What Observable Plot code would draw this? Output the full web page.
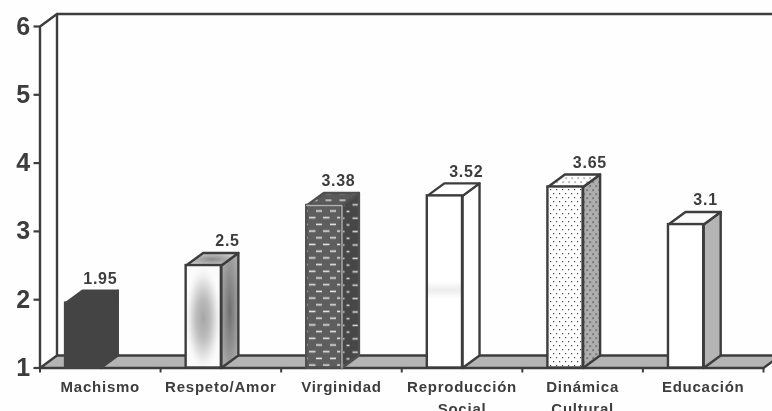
<!DOCTYPE html>
<html><head><meta charset="utf-8">
<script src="https://cdn.jsdelivr.net/npm/d3@7"></script>
<script src="https://cdn.jsdelivr.net/npm/@observablehq/plot@0.6"></script>
<style>
html,body{margin:0;padding:0;background:#fefefe;overflow:hidden}
svg{display:block;filter:blur(0.35px)}
</style></head><body>
<script>
const categories = ["Machismo","Respeto/Amor","Virginidad","Reproducción\nSocial","Dinámica\nCultural","Educación"];
const values = [1.95,2.5,3.38,3.52,3.65,3.1];
const valueLabels = ["1.95","2.5","3.38","3.52","3.65","3.1"];
const yTicks = [1,2,3,4,5,6];

// chart look
const ink = "#3d3d3d";
const depthX = 0.141, depthY = 0.183;   // oblique depth in data units
const barStart = 0.212, barWidth = 0.292;
const labelNudge = [0.5,0.555,0.475,0.535,0.56,0.52];
const faces = [
  {front:"#444",side:"#444",top:"#444",stroke:"#444",edge:"#444"},
  {front:"url(#frontGlow)",side:"url(#sideGlow)",top:"url(#topGlow)",stroke:ink,edge:ink},
  {front:"url(#dashFront)",side:"url(#dashSide)",top:"url(#dashTop)",stroke:"#505050",edge:"#b0b0b0"},
  {front:"url(#smudge)",side:"#fff",top:"#fff",stroke:ink,edge:ink},
  {front:"url(#dotFront)",side:"url(#dotSide)",top:"url(#dotFront)",stroke:ink,edge:ink},
  {front:"#fff",side:"#b4b4b4",top:"#fafafa",stroke:ink,edge:ink}
];

const defs = () => {
  const s = document.createElementNS("http://www.w3.org/2000/svg","defs");
  s.innerHTML = `
  <radialGradient id="frontGlow" cx=".5" cy=".52" r=".5">
    <stop offset="0" stop-color="#a6a6a6"/><stop offset=".4" stop-color="#bdbdbd"/><stop offset=".85" stop-color="#f2f2f2"/><stop offset="1" stop-color="#fbfbfb"/>
  </radialGradient>
  <radialGradient id="sideGlow" cx=".5" cy=".5" r=".55">
    <stop offset="0" stop-color="#707070"/><stop offset="1" stop-color="#a8a8a8"/>
  </radialGradient>
  <radialGradient id="topGlow" cx=".5" cy=".5" r=".55">
    <stop offset="0" stop-color="#8a8a8a"/><stop offset="1" stop-color="#d0d0d0"/>
  </radialGradient>
  <linearGradient id="smudge" x1="0" x2="0" y1="0" y2="1">
    <stop offset=".5" stop-color="#fff"/><stop offset=".55" stop-color="#ececec"/><stop offset=".6" stop-color="#fff"/>
  </linearGradient>
  <pattern id="dashFront" width="14" height="13.4" patternUnits="userSpaceOnUse">
    <rect width="14" height="13.4" fill="#5e5e5e"/>
    <rect x="1" y="2.5" width="6.5" height="1.6" fill="#e4e4e4"/>
    <rect x="8" y="9.2" width="6" height="1.6" fill="#e4e4e4"/>
  </pattern>
  <pattern id="dashSide" width="14" height="13.4" patternUnits="userSpaceOnUse">
    <rect width="14" height="13.4" fill="#474747"/>
    <rect x="2" y="2.5" width="6" height="1.6" fill="#d8d8d8"/>
    <rect x="10" y="9.2" width="3" height="1.6" fill="#d8d8d8"/>
  </pattern>
  <pattern id="dashTop" width="14" height="7" patternUnits="userSpaceOnUse">
    <rect width="14" height="7" fill="#5a5a5a"/>
    <rect x="3" y="3" width="6" height="1.4" fill="#e0e0e0"/>
  </pattern>
  <pattern id="dotFront" width="6" height="8" patternUnits="userSpaceOnUse">
    <rect width="6" height="8" fill="#fff"/>
    <rect x="1" y="1" width="1.2" height="1.2" fill="#444"/>
    <rect x="4" y="5" width="1.2" height="1.2" fill="#444"/>
  </pattern>
  <pattern id="dotSide" width="6" height="8" patternUnits="userSpaceOnUse">
    <rect width="6" height="8" fill="#aeaeae"/>
    <rect x="1" y="1" width="1.2" height="1.2" fill="#222"/>
    <rect x="4" y="5" width="1.2" height="1.2" fill="#222"/>
  </pattern>`;
  return s;
};

const bars = categories.map((c,i)=>({
  c, i, v:values[i], x1:i+barStart, x2:i+barStart+barWidth, f:faces[i]
}));
const lineOpts = (stroke,fill,sw=2.4)=>({x:"x",y:"y",fill,stroke,strokeWidth:sw,strokeLinejoin:"round",curve:"linear"});
const poly = pts => pts.map(([x,y])=>({x,y}));

const faceMarks = bars.flatMap(b=>[
  Plot.line(poly([[b.x2,1],[b.x2+depthX,1+depthY],[b.x2+depthX,b.v+depthY],[b.x2,b.v],[b.x2,1]]),lineOpts(b.f.stroke,b.f.side)),
  Plot.line(poly([[b.x1,b.v],[b.x1+depthX,b.v+depthY],[b.x2+depthX,b.v+depthY],[b.x2,b.v],[b.x1,b.v]]),lineOpts(b.f.stroke,b.f.top)),
  Plot.rect([b],{x1:"x1",x2:"x2",y1:()=>1,y2:"v",fill:b.f.front,stroke:b.f.stroke,strokeWidth:2.4}),
  ...(b.f.edge===b.f.stroke?[]:[Plot.line(poly([[b.x1,b.v],[b.x2,b.v],[b.x2,1]]),lineOpts(b.f.edge,"none",1.4))])
]);

const n = categories.length;
const chart = Plot.plot({
  width:772, height:411,
  marginLeft:39.5, marginRight:9, marginTop:26, marginBottom:43.5,
  style:{background:"#fefefe",overflow:"hidden",letterSpacing:"0.75px"},
  x:{type:"linear",domain:[0,n],axis:null},
  y:{type:"linear",domain:[1,6],axis:null},
  marks:[
    defs,
    // floor
    Plot.line(poly([[0,1],[depthX,1+depthY],[n+depthX,1+depthY],[n,1],[0,1]]),lineOpts(ink,"#b4b4b4")),
    // walls
    Plot.line(poly([[0,1],[0,6],[depthX,6+depthY],[n+depthX,6+depthY]]),lineOpts(ink,"none")),
    Plot.line(poly([[depthX,6+depthY],[depthX,1+depthY]]),lineOpts(ink,"none")),
    // y axis
    Plot.axisY(yTicks,{anchor:"left",tickSize:6,tickPadding:3,strokeWidth:2.2,stroke:ink,fontSize:25,fontWeight:"bold",fontFamily:"Liberation Sans",fill:ink,label:null,tickFormat:d=>d}),
    // x ticks
    Plot.axisX(d3.range(n+1),{anchor:"bottom",tickSize:5,strokeWidth:2,stroke:ink,tickFormat:()=>"",label:null}),
    ...faceMarks,
    // value labels
    Plot.text(bars,{x:b=>b.i+labelNudge[b.i],y:b=>b.v+depthY,text:b=>valueLabels[b.i],dy:-12,fontSize:16,fontWeight:"bold",fontFamily:"Liberation Sans",fill:ink}),
    // category labels
    Plot.text(bars,{x:b=>b.i+0.5,y:()=>1,text:"c",dy:9,lineAnchor:"top",lineHeight:1.45,fontSize:15,fontWeight:"bold",fontFamily:"Liberation Sans",fill:ink})
  ]
});
document.body.appendChild(chart);
</script>
</body></html>
